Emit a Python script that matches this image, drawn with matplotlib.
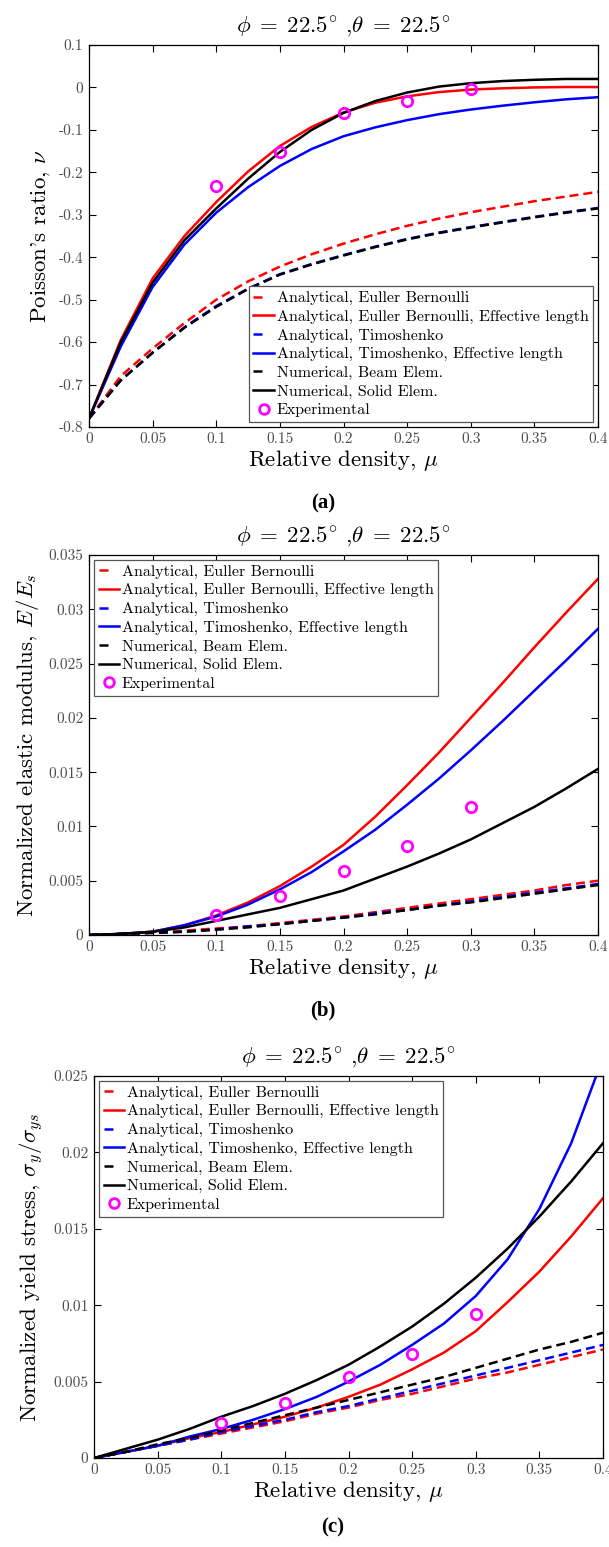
import matplotlib
matplotlib.use("Agg")
import matplotlib.pyplot as plt
from matplotlib.ticker import FixedLocator, FixedFormatter
from matplotlib.lines import Line2D

plt.rcParams['font.family'] = ['cmr10', 'DejaVu Serif']
plt.rcParams['mathtext.fontset'] = 'cm'
plt.rcParams['axes.unicode_minus'] = False
plt.rcParams['axes.formatter.use_mathtext'] = True

# ---------------- data ----------------
mu = [0, 0.025, 0.05, 0.075, 0.1, 0.125, 0.15, 0.175, 0.2, 0.225, 0.25,
      0.275, 0.3, 0.325, 0.35, 0.375, 0.4]
mu_exp = [0.1, 0.15, 0.2, 0.25, 0.3]

# (a) Poisson's ratio
a_eb = [-0.78, -0.68, -0.615, -0.555, -0.50, -0.457, -0.422, -0.393, -0.368, -0.346, -0.326,
        -0.309, -0.294, -0.281, -0.268, -0.257, -0.246]
a_eb_eff = [-0.78, -0.595, -0.45, -0.35, -0.27, -0.198, -0.138, -0.093, -0.059, -0.036, -0.021,
            -0.011, -0.005, -0.002, 0.0, 0.001, 0.001]
a_tim = [-0.78, -0.69, -0.625, -0.565, -0.515, -0.474, -0.440, -0.416, -0.395, -0.375, -0.357,
         -0.342, -0.329, -0.317, -0.305, -0.294, -0.284]
a_tim_eff = [-0.78, -0.61, -0.47, -0.37, -0.295, -0.235, -0.185, -0.145, -0.115, -0.094, -0.077,
             -0.063, -0.052, -0.043, -0.035, -0.028, -0.023]
a_beam = [-0.78, -0.69, -0.625, -0.566, -0.517, -0.475, -0.441, -0.417, -0.396, -0.376, -0.358,
          -0.343, -0.330, -0.318, -0.306, -0.295, -0.285]
a_solid = [-0.78, -0.60, -0.46, -0.36, -0.285, -0.215, -0.152, -0.100, -0.060, -0.032, -0.012,
           0.002, 0.010, 0.015, 0.018, 0.020, 0.020]
a_exp = [-0.232, -0.151, -0.060, -0.032, -0.004]

# (b) Normalized elastic modulus
b_eb = [0, 0.0001, 0.0002, 0.0004, 0.0006, 0.0008, 0.0011, 0.0014, 0.0017, 0.0021, 0.0025,
        0.0029, 0.0033, 0.0037, 0.0041, 0.0046, 0.0050]
b_eb_eff = [0, 0.0001, 0.0003, 0.0009, 0.0018, 0.0030, 0.0045, 0.0063, 0.0083, 0.0109, 0.0138,
            0.0168, 0.0200, 0.0232, 0.0265, 0.0297, 0.0328]
b_tim = [0, 0.0001, 0.0002, 0.0003, 0.0005, 0.0008, 0.0010, 0.0013, 0.0016, 0.0020, 0.0023,
         0.0027, 0.0031, 0.0035, 0.0039, 0.0043, 0.0047]
b_tim_eff = [0, 0.0001, 0.0003, 0.0009, 0.0017, 0.0028, 0.0042, 0.0058, 0.0077, 0.0097, 0.0120,
             0.0144, 0.0170, 0.0197, 0.0225, 0.0253, 0.0282]
b_beam = [0, 0.0001, 0.0002, 0.0003, 0.0005, 0.0007, 0.0010, 0.0013, 0.0016, 0.0019, 0.0023,
          0.0027, 0.0030, 0.0034, 0.0038, 0.0042, 0.0046]
b_solid = [0, 0.0001, 0.0003, 0.0007, 0.0013, 0.0019, 0.0025, 0.0033, 0.0041, 0.0052, 0.0063,
           0.0075, 0.0088, 0.0103, 0.0118, 0.0135, 0.0153]
b_exp = [0.0018, 0.0036, 0.0059, 0.0082, 0.0118]

# (c) Normalized yield stress
c_eb = [0, 0.0004, 0.0008, 0.0012, 0.0016, 0.0020, 0.0024, 0.0029, 0.0033, 0.0038, 0.0042,
        0.0047, 0.0052, 0.0056, 0.0061, 0.0066, 0.0071]
c_eb_eff = [0, 0.0004, 0.0008, 0.0013, 0.0017, 0.0022, 0.0027, 0.0033, 0.0040, 0.0048, 0.0058,
            0.0069, 0.0083, 0.0102, 0.0122, 0.0145, 0.0170]
c_tim = [0, 0.0004, 0.0008, 0.0012, 0.0017, 0.0021, 0.0025, 0.0030, 0.0034, 0.0039, 0.0044,
         0.0049, 0.0054, 0.0059, 0.0064, 0.0069, 0.0074]
c_tim_eff = [0, 0.0004, 0.0008, 0.0014, 0.0019, 0.0025, 0.0032, 0.0040, 0.0050, 0.0061, 0.0074,
             0.0088, 0.0106, 0.0130, 0.0163, 0.0206, 0.0262]
c_beam = [0, 0.0004, 0.0009, 0.0013, 0.0018, 0.0023, 0.0028, 0.0033, 0.0038, 0.0043, 0.0048,
          0.0053, 0.0059, 0.0065, 0.0071, 0.0076, 0.0082]
c_solid = [0, 0.0006, 0.0012, 0.0019, 0.0027, 0.0034, 0.0042, 0.0051, 0.0061, 0.0073, 0.0086,
           0.0101, 0.0118, 0.0137, 0.0158, 0.0181, 0.0206]
c_exp = [0.0023, 0.0036, 0.0053, 0.0068, 0.0094]

labels = ['Analytical, Euller Bernoulli',
          'Analytical, Euller Bernoulli, Effective length',
          'Analytical, Timoshenko',
          'Analytical, Timoshenko, Effective length',
          'Numerical, Beam Elem.',
          'Numerical, Solid Elem.',
          'Experimental']

x_ticks = [0, 0.05, 0.1, 0.15, 0.2, 0.25, 0.3, 0.35, 0.4]
x_ticklabels = ['0', '0.05', '0.1', '0.15', '0.2', '0.25', '0.3', '0.35', '0.4']
a_yticks = [0.1, 0, -0.1, -0.2, -0.3, -0.4, -0.5, -0.6, -0.7, -0.8]
a_yticklabels = ['0.1', '0', '-0.1', '-0.2', '-0.3', '-0.4', '-0.5', '-0.6', '-0.7', '-0.8']
b_yticks = [0, 0.005, 0.01, 0.015, 0.02, 0.025, 0.03, 0.035]
b_yticklabels = ['0', '0.005', '0.01', '0.015', '0.02', '0.025', '0.03', '0.035']
c_yticks = [0, 0.005, 0.01, 0.015, 0.02, 0.025]
c_yticklabels = ['0', '0.005', '0.01', '0.015', '0.02', '0.025']

title = r'$\phi\;=\;22.5^{\circ}$ ,$\theta\;=\;22.5^{\circ}$'
xlabel = r'Relative density, $\mu$'

# ---------------- figure ----------------
fig = plt.figure(figsize=(6.09, 15.47), dpi=100)
W, H = 609, 1547

def add_axes(l, r, t, b):
    return fig.add_axes([l / W, 1 - b / H, (r - l) / W, (b - t) / H])

axa = add_axes(89, 598, 45, 427)
axb = add_axes(89, 598, 555, 935)
axc = add_axes(94, 603, 1076, 1458)

LW = 1.8
DASH = (3.6, 2.0)
tick_color = '#4d4d4d'
LBL = 16.5

def draw(ax, eb, eb_eff, tim, tim_eff, beam, solid, exp):
    ax.plot(mu, eb, color='red', lw=LW, dashes=DASH)
    ax.plot(mu, eb_eff, color='red', lw=LW)
    ax.plot(mu, tim, color='blue', lw=LW, dashes=DASH)
    ax.plot(mu, tim_eff, color='blue', lw=LW)
    ax.plot(mu, beam, color='black', lw=LW, dashes=DASH)
    ax.plot(mu, solid, color='black', lw=LW)
    ax.plot(mu_exp, exp, ls='none', marker='o', ms=7.5, mfc='none', mec='magenta', mew=2.0)

def style(ax, ylim, yticks, yticklabels, ylabel):
    ax.set_xlim(0, 0.4)
    ax.set_ylim(*ylim)
    ax.xaxis.set_major_locator(FixedLocator(x_ticks))
    ax.xaxis.set_major_formatter(FixedFormatter(x_ticklabels))
    ax.yaxis.set_major_locator(FixedLocator(yticks))
    ax.yaxis.set_major_formatter(FixedFormatter(yticklabels))
    ax.tick_params(direction='in', top=True, right=True, length=5, width=0.8,
                   labelsize=11, labelcolor=tick_color, pad=4)
    for s in ax.spines.values():
        s.set_linewidth(0.9)
    ax.set_title(title, fontsize=LBL, pad=9)
    ax.set_xlabel(xlabel, fontsize=LBL, labelpad=1)
    ax.set_ylabel(ylabel, fontsize=LBL, labelpad=5)

def handles():
    sdash = (3.6, 10)
    return [Line2D([], [], color='red', lw=LW, dashes=sdash),
            Line2D([], [], color='red', lw=LW),
            Line2D([], [], color='blue', lw=LW, dashes=sdash),
            Line2D([], [], color='blue', lw=LW),
            Line2D([], [], color='black', lw=LW, dashes=sdash),
            Line2D([], [], color='black', lw=LW),
            Line2D([], [], ls='none', marker='o', ms=7, mfc='none', mec='magenta', mew=2.0)]

draw(axa, a_eb, a_eb_eff, a_tim, a_tim_eff, a_beam, a_solid, a_exp)
style(axa, (-0.8, 0.1), a_yticks, a_yticklabels, r"Poisson's ratio, $\nu$")

draw(axb, b_eb, b_eb_eff, b_tim, b_tim_eff, b_beam, b_solid, b_exp)
style(axb, (0, 0.035), b_yticks, b_yticklabels, r'Normalized elastic modulus, $E/E_s$')

draw(axc, c_eb, c_eb_eff, c_tim, c_tim_eff, c_beam, c_solid, c_exp)
style(axc, (0, 0.025), c_yticks, c_yticklabels, r'Normalized yield stress, $\sigma_y/\sigma_{ys}$')

leg_kw = dict(fontsize=11.5, handlelength=1.3, handletextpad=0.15, labelspacing=0.28,
              borderpad=0.3, borderaxespad=0.3, fancybox=False, framealpha=1,
              edgecolor='#555555')
la = axa.legend(handles(), labels, loc='lower right', **leg_kw)
lb = axb.legend(handles(), labels, loc='upper left', **leg_kw)
lc = axc.legend(handles(), labels, loc='upper left', **leg_kw)
for lg in (la, lb, lc):
    lg.get_frame().set_linewidth(0.9)

for txt, x, y in (('(a)', 323, 503), ('(b)', 323, 1010), ('(c)', 333, 1527)):
    fig.text(x / W, 1 - y / H, txt, fontsize=15, fontweight='bold',
             family='Liberation Serif', ha='center', va='center')

fig.savefig('out.png', dpi=100)
